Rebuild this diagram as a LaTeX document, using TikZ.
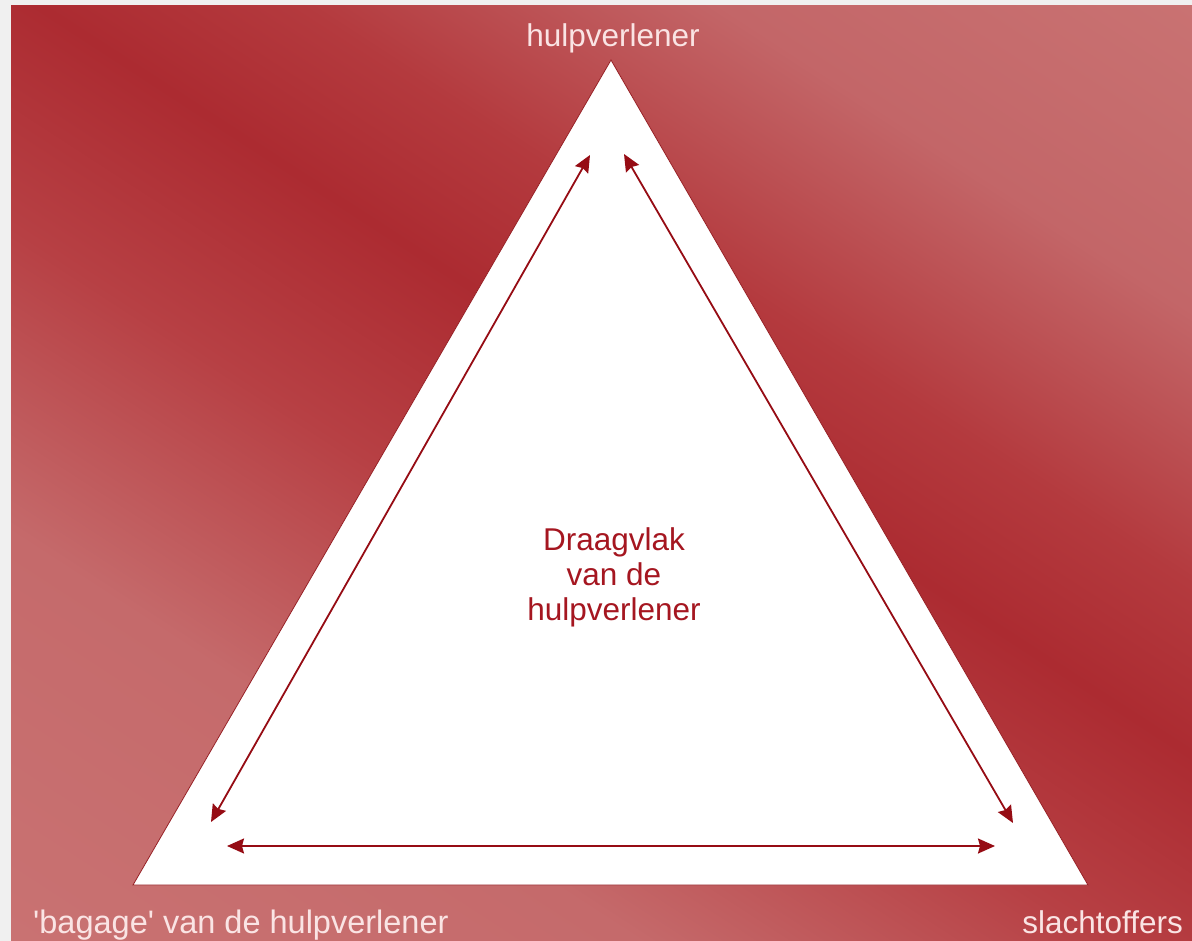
\documentclass[tikz,border=0pt]{standalone}
\usepackage{fontspec}
\newfontfamily\arialf{Liberation Sans}
\usetikzlibrary{arrows.meta}
\definecolor{framegray}{RGB}{240,240,240}
\definecolor{bglight}{RGB}{201,114,114}
\definecolor{bglightb}{RGB}{197,106,107}
\definecolor{bgmid}{RGB}{183,64,68}
\definecolor{bgdark}{RGB}{172,43,49}
\definecolor{bgmidb}{RGB}{180,58,62}
\definecolor{bglightc}{RGB}{195,102,104}
\definecolor{edgered}{RGB}{150,30,35}
\definecolor{arrowred}{RGB}{150,12,20}
\definecolor{labelpink}{RGB}{250,228,228}
\definecolor{textred}{RGB}{165,22,32}
\pgfdeclareverticalshading{bgshade}{100bp}{color(0bp)=(bglight); color(25bp)=(bglight); color(37bp)=(bglightb); color(46bp)=(bgmid); color(53bp)=(bgdark); color(58bp)=(bgmidb); color(66bp)=(bglightc); color(75bp)=(bglight); color(100bp)=(bglight)}
\begin{document}
\begin{tikzpicture}[x=1pt,y=-1pt,
  lbl/.style={text=labelpink, inner sep=0pt, font=\arialf\fontsize{31.5}{35}\selectfont},
  ctr/.style={text=textred, inner sep=0pt, align=center, font=\arialf\fontsize{31.5}{35}\selectfont},
  arr/.style={{Stealth[length=17pt,width=15pt,inset=2pt]}-{Stealth[length=17pt,width=15pt,inset=2pt]}, line width=1.8pt, draw=arrowred, fill=arrowred},
  tri/.style={fill=white, draw=edgered, line width=0.8pt, line join=miter}]
\useasboundingbox (0,0) rectangle (1192,941);
\fill[framegray] (0,0) rectangle (1192,941);
\begin{scope}
  \clip (11,6) rectangle (1192,941);
  \shade[shading=bgshade, shading angle=-33] (-124,-250) rectangle (1316,1190);
\end{scope}
% triangle
\coordinate (T) at (611,60);
\coordinate (L) at (133,885);
\coordinate (R) at (1088,885);
\filldraw[tri] (T) -- (L) -- (R) -- cycle;
% arrow end points
\coordinate (a1) at (590,155);
\coordinate (a2) at (211,822);
\coordinate (b1) at (624,154);
\coordinate (b2) at (1013,823);
\coordinate (c1) at (227,846);
\coordinate (c2) at (995,846);
\draw[arr] (a1) -- (a2);
\draw[arr] (b1) -- (b2);
\draw[arr] (c1) -- (c2);
% labels
\node[lbl, anchor=base] (top) at (613,47) {hulpverlener};
\node[lbl, anchor=base west, font=\arialf\fontsize{32.5}{35}\selectfont] (bl) at (33,933) {'bagage' van de hulpverlener};
\node[lbl, anchor=base east] (br) at (1183,933) {slachtoffers};
\node[ctr] (mid) at (614,577) {Draagvlak\\van de\\hulpverlener};
\end{tikzpicture}
\end{document}
